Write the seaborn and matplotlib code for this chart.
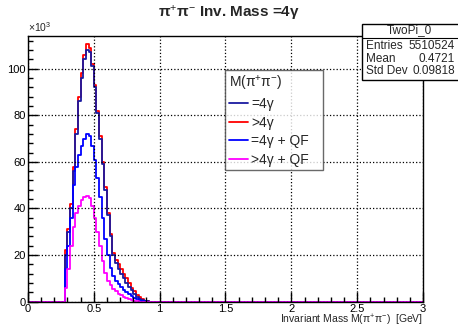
import numpy as np
import pandas as pd
import matplotlib
matplotlib.use("Agg")
import matplotlib.pyplot as plt
import seaborn as sns
from matplotlib.ticker import MultipleLocator
from matplotlib.lines import Line2D

sns.set_theme(style="white")
plt.rcParams['font.family'] = ['Liberation Sans', 'DejaVu Sans']
plt.rcParams['mathtext.fontset'] = 'custom'
plt.rcParams['mathtext.rm'] = 'Liberation Sans'
plt.rcParams['mathtext.it'] = 'Liberation Sans'
plt.rcParams['axes.grid'] = True
plt.rcParams['grid.color'] = 'black'
plt.rcParams['grid.linestyle'] = ':'
plt.rcParams['grid.linewidth'] = 0.9
plt.rcParams['grid.alpha'] = 1.0

# ---- data (counts in units of 10^3, bin width 0.02 GeV) ----
bin_width = 0.02
x_min, x_max = 0.0, 3.0
peak_centers = [0.29, 0.31, 0.33, 0.35, 0.37, 0.39, 0.41, 0.43, 0.45, 0.47,
                0.49, 0.51, 0.53, 0.55, 0.57, 0.59, 0.61, 0.63, 0.65, 0.67,
                0.69, 0.71, 0.73, 0.75, 0.77, 0.79, 0.81, 0.83, 0.85, 0.87,
                0.89, 0.91]
eq4g = [20, 30, 40, 56, 72, 86, 96, 104, 108, 107,
        101, 92, 81, 70, 59, 48, 37, 28, 20, 16.5,
        14, 12, 10, 8.2, 6.5, 5, 3.5, 2.2, 1.3, 0.7,
        0.3, 0.1]
gt4g = [22, 31, 42, 58, 74, 88, 98, 106, 110.5, 109,
        102, 93, 82, 71, 60, 49, 38, 29, 21, 18,
        16, 14, 12, 10, 8, 6, 4.5, 3, 1.8, 1.0,
        0.4, 0.1]
eq4g_qf = [14, 24, 36, 50, 58, 63, 67, 70, 72, 71,
           67, 61, 53, 45, 36, 27, 20, 14.5, 11, 9,
           7.5, 6.3, 5.2, 4.2, 3.3, 2.4, 1.6, 1.0, 0.5, 0.2,
           0.1, 0.0]
gt4g_qf = [6, 14, 24, 32, 38, 41, 43.5, 45, 45.4, 44.5,
           41, 36, 30, 24, 17.5, 12.5, 9, 7, 5.5, 4.4,
           3.5, 2.7, 2.0, 1.5, 1.0, 0.6, 0.3, 0.15, 0.05, 0.0,
           0.0, 0.0]
series_labels = ["=4\u03b3", ">4\u03b3", "=4\u03b3 + QF", ">4\u03b3 + QF"]
series_colors = ["#1a1aa0", "#ff0000", "#0000ff", "#ff00ff"]
series_values = [eq4g, gt4g, eq4g_qf, gt4g_qf]

n_bins = int(round((x_max - x_min) / bin_width))
centers = np.round(x_min + bin_width * (np.arange(n_bins) + 0.5), 4)

fig = plt.figure(figsize=(4.58, 3.27), dpi=100)
ax = fig.add_axes([0.0611, 0.0774, 0.8625, 0.814])

draw_order = [1, 0, 2, 3]
for i in draw_order:
    full = pd.Series(0.0, index=centers)
    full.loc[np.round(peak_centers, 4)] = series_values[i]
    df = pd.DataFrame({"mass": centers, "w": full.values})
    sns.histplot(data=df, x="mass", weights="w", binwidth=bin_width,
                 binrange=(x_min, x_max), element="step",
                 fill=False, color=series_colors[i], linewidth=1.3, ax=ax)

ax.set_xlim(0, 3)
ax.set_ylim(0, 114.2)
ax.set_ylabel("")
ax.set_xlabel("")
ax.xaxis.set_minor_locator(MultipleLocator(0.1))
ax.yaxis.set_minor_locator(MultipleLocator(4))
ax.set_xticks([0, 0.5, 1, 1.5, 2, 2.5, 3])
ax.set_xticklabels(["0", "0.5", "1", "1.5", "2", "2.5", "3"])
ax.set_yticks([0, 20, 40, 60, 80, 100])
ax.set_yticklabels(["0", "20", "40", "60", "80", "100"])
ax.tick_params(axis="both", which="major", direction="in", length=7, width=1,
               labelsize=8, colors="black", pad=1.5)
ax.tick_params(axis="both", which="minor", direction="in", length=3.5, width=1,
               colors="black")
ax.tick_params(axis="x", which="both", bottom=True, top=False)
ax.tick_params(axis="y", which="both", left=True, right=False)
ax.set_axisbelow(False)
ax.xaxis.grid(True, which="major", color="black", linestyle=":", linewidth=0.9)
ax.yaxis.grid(True, which="major", color="black", linestyle=":", linewidth=0.9)
ax.xaxis.grid(False, which="minor")
ax.yaxis.grid(False, which="minor")
for s in ax.spines.values():
    s.set_color("black")
    s.set_linewidth(1.0)

fig.text(0.0611, 0.895, "\u00d710$^{3}$", fontsize=7.5, ha="left", va="bottom")

fig.text(0.5, 0.958, "\u03c0$^{+}$\u03c0$^{-}$ Inv. Mass =4\u03b3",
         ha="center", va="center", fontsize=11, fontweight="bold")

fig.text(0.9236, 1 - 320 / 327, "Invariant Mass M(\u03c0$^{+}$\u03c0$^{-}$)  [GeV]",
         ha="right", va="center", fontsize=7.5)

# legend
handles = [Line2D([], [], color=series_colors[i], linewidth=1.3) for i in range(4)]
leg = ax.legend(handles, series_labels, title="M(\u03c0$^{+}$\u03c0$^{-}$)",
                loc="upper left", bbox_to_anchor=(0.500, 0.870, 0.248, 0.0),
                mode="expand",
                fontsize=10, title_fontsize=10, frameon=True, fancybox=False,
                handlelength=1.35, handletextpad=0.25, borderpad=0.25,
                labelspacing=0.33, borderaxespad=0.0)
leg._legend_box.align = "left"
leg.get_frame().set_edgecolor("#444444")
leg.get_frame().set_linewidth(1.0)
leg.set_zorder(10)

# stats box
bx0, by0 = 362 / 458, 1 - 80 / 327
bw, bh = 100 / 458, 56 / 327
rect = plt.Rectangle((bx0, by0), bw, bh, transform=fig.transFigure,
                     facecolor="white", edgecolor="black", linewidth=1.0, zorder=5)
fig.add_artist(rect)
line = Line2D([bx0, 1.0], [1 - 38 / 327, 1 - 38 / 327], transform=fig.transFigure,
              color="black", linewidth=0.8, zorder=6)
fig.add_artist(line)
fig.text(409 / 458, 1 - 30.5 / 327, "TwoPi_0", ha="center", va="center",
         fontsize=8.5, zorder=7)
stat_names = ["Entries", "Mean", "Std Dev"]
stat_vals = ["5510524", "0.4721", "0.09818"]
for k, (n, v) in enumerate(zip(stat_names, stat_vals)):
    yy = 1 - (46 + 12.5 * k) / 327
    fig.text(bx0 + 0.008, yy, n, ha="left", va="center", fontsize=8.5, zorder=7)
    fig.text(455 / 458, yy, v, ha="right", va="center", fontsize=8.5, zorder=7)

fig.savefig("out.png", dpi=100)
